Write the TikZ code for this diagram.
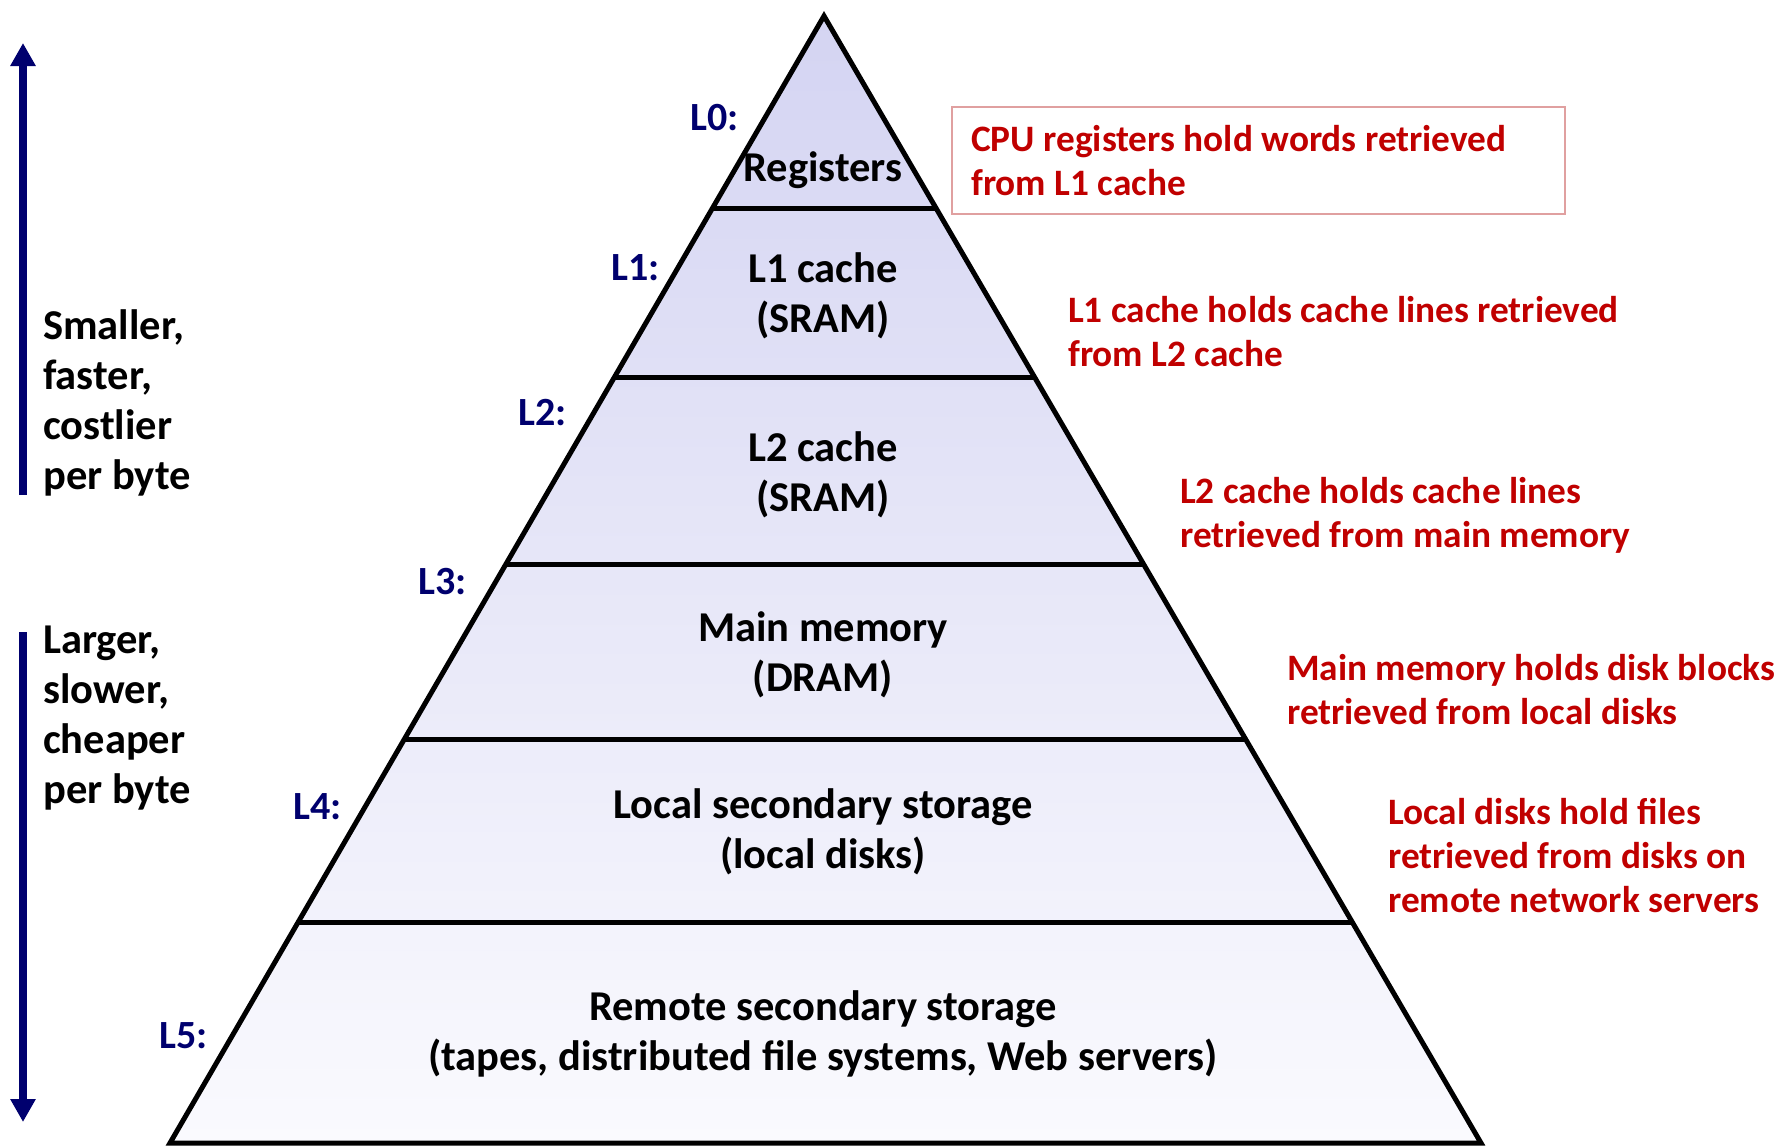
\documentclass[tikz,border=0pt]{standalone}
\usepackage{fontspec}
\setmainfont{Carlito}
\usetikzlibrary{arrows.meta}
\definecolor{navy}{RGB}{0,0,110}
\definecolor{darkred}{RGB}{192,0,0}
\definecolor{boxred}{RGB}{224,160,160}
\definecolor{topfill}{RGB}{212,212,242}
\definecolor{botfill}{RGB}{250,250,254}
\tikzset{
  lvl/.style={font=\bfseries\fontsize{42.5}{50}\selectfont, text=black, align=center, inner sep=0pt},
  lab/.style={font=\bfseries\fontsize{40}{44}\selectfont, text=navy, anchor=east, inner sep=0pt},
  note/.style={font=\bfseries\fontsize{37.3}{44}\selectfont, text=darkred, align=left, anchor=north west, inner sep=0pt},
  side/.style={font=\bfseries\fontsize{42.5}{50}\selectfont, text=black, align=left, anchor=north west, inner sep=0pt},
  bigarrow/.style={draw=navy, line width=7.5pt, -{Triangle[length=23pt,width=24pt]}},
  edge/.style={line width=5pt, line join=miter}
}
\begin{document}
\begin{tikzpicture}[x=1pt,y=-1pt]
\useasboundingbox (0,0) rectangle (1779,1146);
% pyramid corners
\coordinate (apex) at (824,16);
\coordinate (bl) at (170,1143);
\coordinate (br) at (1481,1143);
\shade[top color=topfill, bottom color=botfill] (apex) -- (br) -- (bl) -- cycle;
% level lines
\foreach \yy [count=\i] in {208,377,564,739,922}{
  \pgfmathsetmacro{\xl}{824-654/1127*(\yy-16)}
  \pgfmathsetmacro{\xr}{824+657/1127*(\yy-16)}
  \draw[edge] (\xl,\yy) -- (\xr,\yy);
}
\draw[edge] (apex) -- (br) -- (bl) -- cycle;
% level texts
\node[lvl] (reg) at (823,170) {Registers};
\node[lvl] (l1) at (823,295.5) {L1 cache\\(SRAM)};
\node[lvl] (l2) at (823,474.5) {L2 cache\\(SRAM)};
\node[lvl] (mm) at (823,654.5) {Main memory\\(DRAM)};
\node[lvl] (lss) at (823,832) {Local secondary storage\\(local disks)};
\node[lvl] (rss) at (823,1034) {Remote secondary storage\\(tapes, distributed file systems, Web servers)};
% level labels
\node[lab] (L0) at (739,118) {L0:};
\node[lab] (L1) at (660,268) {L1:};
\node[lab] (L2) at (567,413) {L2:};
\node[lab] (L3) at (467,582) {L3:};
\node[lab] (L4) at (342,807) {L4:};
\node[lab] (L5) at (208,1036) {L5:};
% notes
\draw[boxred, line width=1.5pt] (952,107) rectangle (1565,214);
\node[note] (n0) at (971,125.5) {CPU registers hold words retrieved\\from L1 cache};
\node[note] (n1) at (1068,296) {L1 cache holds cache lines retrieved\\from L2 cache};
\node[note] (n2) at (1180,477) {L2 cache holds cache lines\\retrieved from main memory};
\node[note] (n3) at (1287,654) {Main memory holds disk blocks\\retrieved from local disks};
\node[note] (n4) at (1388,798) {Local disks hold files\\retrieved from disks on\\remote network servers};
% side texts
\node[side] (sm) at (43,309) {Smaller,\\faster,\\costlier\\per byte};
\node[side] (lg) at (43,626) {Larger,\\slower,\\cheaper\\per byte};
\coordinate (upS) at (23,495);
\coordinate (upE) at (23,43);
\coordinate (dnS) at (23,632);
\coordinate (dnE) at (23,1122);
\draw[bigarrow] (upS) -- (upE);
\draw[bigarrow] (dnS) -- (dnE);
\end{tikzpicture}
\end{document}
